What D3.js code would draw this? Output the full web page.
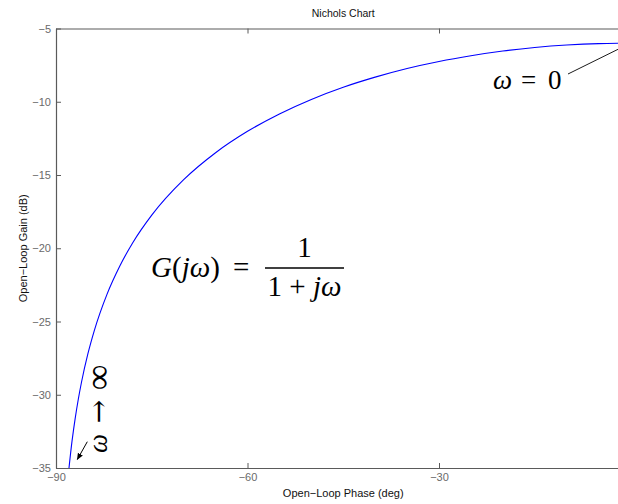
<!DOCTYPE html>
<html>
<head>
<meta charset="utf-8">
<script src="https://cdn.jsdelivr.net/npm/d3@7"></script>
<style>
  html, body { margin: 0; padding: 0; background: #fff; }
  svg { display: block; }
</style>
</head>
<body>
<svg id="chart" width="618" height="504"></svg>
<script>
// Frequency response of G(jw) = 1/(1+jw) on Nichols axes (phase in deg, gain in dB)
const phaseDeg = [0, -5, -10, -15, -20, -25, -30, -35, -40, -45, -50, -55, -60, -65,
                  -70, -75, -78, -80, -82, -84, -85, -86, -86.5, -87, -87.25, -87.5, -88];
const gainDb   = [-6.0, -6.03, -6.13, -6.3, -6.54, -6.86, -7.25, -7.73, -8.32, -9.01, -9.84, -10.83, -12.02, -13.48,
                  -15.32, -17.74, -19.64, -21.21, -23.13, -25.62, -27.2, -29.13, -30.29, -31.63, -32.38, -33.2, -35.14];

const xTicks = [-90, -60, -30];
const yTicks = [-35, -30, -25, -20, -15, -10, -5];

const titleText = "Nichols Chart";
const xLabelText = "Open\u2212Loop Phase (deg)";
const yLabelText = "Open\u2212Loop Gain (dB)";

(function draw() {
  const svg = d3.select("#chart");
  const pLeft = 56, pRight = 630.5, pTop = 28.5, pBottom = 468;

  const x = d3.scaleLinear().domain([-90, 0]).range([pLeft, pRight]);
  const y = d3.scaleLinear().domain([-35, -5]).range([pBottom, pTop]);

  const axisColor = "#5a5a5a";
  const tickTextColor = "#6a6a6a";
  const sans = "'Liberation Sans', Arial, Helvetica, sans-serif";
  const serif = "'Liberation Serif', 'Times New Roman', serif";
  const serif2 = "'DejaVu Serif', serif";

  const defs = svg.append("defs");
  defs.append("clipPath").attr("id", "plotClip")
    .append("rect").attr("x", pLeft).attr("y", pTop)
    .attr("width", pRight - pLeft).attr("height", pBottom - pTop);

  // response curve
  const pts = phaseDeg.map((p, i) => [p, gainDb[i]]);
  const line = d3.line().x(d => x(d[0])).y(d => y(d[1])).curve(d3.curveMonotoneX);
  svg.append("path")
    .attr("d", line(pts))
    .attr("clip-path", "url(#plotClip)")
    .attr("fill", "none")
    .attr("stroke", "#0000ff")
    .attr("stroke-width", 1.1);

  function styleAxis(g) {
    g.selectAll(".domain").attr("stroke", axisColor).attr("stroke-width", 1.2);
    g.selectAll(".tick line").attr("stroke", axisColor);
    g.selectAll(".tick text").attr("fill", tickTextColor)
      .style("font-family", sans).style("font-size", "11px");
  }
  const fmt = d => String(d).replace("-", "\u2212");

  // left axis
  svg.append("g")
    .attr("transform", `translate(${pLeft},0)`)
    .call(d3.axisLeft(y).tickValues(yTicks).tickFormat(fmt)
      .tickSizeInner(-5).tickSizeOuter(0).tickPadding(5))
    .call(styleAxis);

  // bottom axis
  svg.append("g")
    .attr("transform", `translate(0,${pBottom})`)
    .call(d3.axisBottom(x).tickValues(xTicks).tickFormat(fmt)
      .tickSizeInner(-5).tickSizeOuter(0).tickPadding(5))
    .call(styleAxis);

  // top border with inward ticks
  svg.append("g")
    .attr("transform", `translate(0,${pTop})`)
    .call(d3.axisTop(x).tickValues(xTicks).tickFormat("")
      .tickSizeInner(-5).tickSizeOuter(0))
    .call(styleAxis);

  // titles
  svg.append("text").attr("x", (pLeft + pRight) / 2).attr("y", 17)
    .attr("text-anchor", "middle").style("font-family", sans).style("font-size", "10.5px")
    .attr("fill", "#111").text(titleText);
  svg.append("text").attr("x", (pLeft + pRight) / 2).attr("y", 497)
    .attr("text-anchor", "middle").style("font-family", sans).style("font-size", "11px")
    .attr("fill", "#111").text(xLabelText);
  svg.append("text")
    .attr("transform", `translate(26.5,${(pTop + pBottom) / 2}) rotate(-90)`)
    .attr("text-anchor", "middle").style("font-family", sans).style("font-size", "11px")
    .attr("fill", "#111").text(yLabelText);

  // annotations
  const ann = svg.append("g").style("font-family", serif).attr("fill", "#000");

  // mixed italic / upright math text; each part may carry its own x
  function mathText(px, py, parts, size, anchor) {
    const t = ann.append("text").attr("x", px).attr("y", py)
      .attr("text-anchor", anchor || "start").style("font-size", size + "px");
    parts.forEach(([s, it, sx]) => {
      const ts = t.append("tspan").style("font-style", it ? "italic" : "normal").text(s);
      if (sx !== undefined) ts.attr("x", sx);
    });
    return t;
  }

  // omega = 0 label with leader to the zero-frequency point
  mathText(493, 89, [["\u03c9", true], ["=", false, 521], ["0", false, 548]], 27);
  svg.append("line")
    .attr("x1", 568).attr("y1", 74)
    .attr("x2", x(phaseDeg[0])).attr("y2", y(gainDb[0]))
    .attr("stroke", "#000").attr("stroke-width", 0.9);

  // transfer function
  mathText(151, 277, [["G", true], ["(", false], ["j\u03c9", true], [")", false], ["=", false, 233]], 29);
  ann.append("line").attr("x1", 265).attr("x2", 344).attr("y1", 268).attr("y2", 268)
    .attr("stroke", "#000").attr("stroke-width", 1.3);
  mathText(304.5, 257, [["1", false]], 29, "middle");
  mathText(304.5, 296, [["1 + ", false], ["j\u03c9", true]], 29, "middle");

  // omega -> infinity, written upward
  function upright(cx, cy, txt, size, fam, italic) {
    ann.append("text")
      .attr("transform", `translate(${cx},${cy}) rotate(-90)`)
      .attr("text-anchor", "middle")
      .style("font-family", fam).style("font-size", size + "px")
      .style("font-style", italic ? "italic" : "normal").text(txt);
  }
  upright(106.5, 443.5, "\u03c9", 27, serif, true);
  upright(107.5, 411.5, "\u2192", 28, serif2, false);
  upright(109.5, 377.5, "\u221e", 36, serif, false);

  // small arrow toward the high-frequency end
  defs.append("marker").attr("id", "head").attr("viewBox", "0 0 10 10")
    .attr("refX", 9).attr("refY", 5).attr("markerWidth", 7).attr("markerHeight", 7)
    .attr("markerUnits", "userSpaceOnUse").attr("orient", "auto")
    .append("path").attr("d", "M0,1 L10,5 L0,9 Z").attr("fill", "#000");
  svg.append("line")
    .attr("x1", 87.3).attr("y1", 441.7).attr("x2", 77.3).attr("y2", 459.5)
    .attr("stroke", "#000").attr("stroke-width", 1).attr("marker-end", "url(#head)");
})();
</script>
</body>
</html>
